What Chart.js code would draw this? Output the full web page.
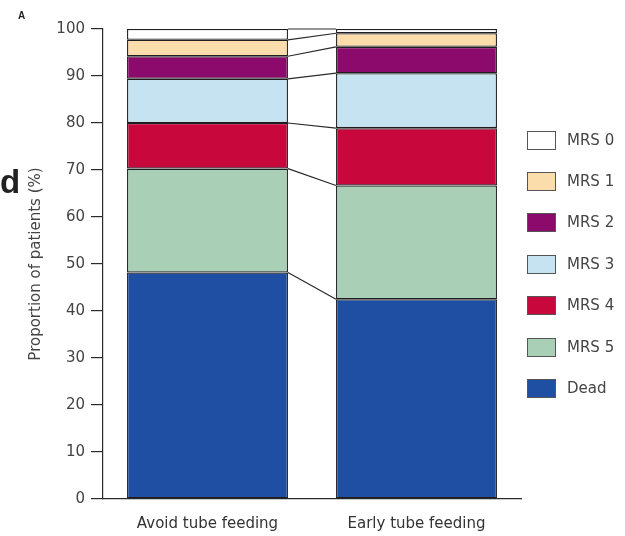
<!DOCTYPE html>
<html>
<head>
<meta charset="utf-8">
<script src="https://cdn.jsdelivr.net/npm/chart.js@4"></script>
<style>
  html, body { margin: 0; padding: 0; background: #ffffff; }
  #wrap { position: relative; width: 625px; height: 536px; }
  #chart { position: absolute; left: 0; top: 0; }
  .panel { position: absolute; font-family: "Liberation Sans", Arial, sans-serif; font-weight: bold; color: #222; }
  #legend { position: absolute; left: 0; top: 0; width: 625px; height: 536px; pointer-events: none; }
  .lg-box { position: absolute; width: 27px; height: 17px; border: 1px solid #555; box-sizing: content-box; }
  .lg-text { position: absolute; font-family: "DejaVu Sans", sans-serif; font-size: 15px; color: #444; line-height: 19px; white-space: nowrap; }
</style>
</head>
<body>
<div id="wrap">
  <canvas id="chart" width="625" height="536"></canvas>
  <div class="panel" style="left:18px; top:10px; font-size:10px;">A</div>
  <div class="panel" style="left:0px; top:165px; font-size:33px; line-height:34px;">d</div>
  <div id="legend"></div>
</div>
<script>
// ---- data ----
const categories = ['Avoid tube feeding', 'Early tube feeding'];
const seriesNames = ['Dead', 'MRS 5', 'MRS 4', 'MRS 3', 'MRS 2', 'MRS 1', 'MRS 0'];
const dead = [48.2, 42.5];
const mrs5 = [22.1, 24.2];
const mrs4 = [9.7, 12.2];
const mrs3 = [9.4, 11.7];
const mrs2 = [4.8, 5.6];
const mrs1 = [3.5, 2.9];
const mrs0 = [2.3, 0.9];
const yTicks = [0, 10, 20, 30, 40, 50, 60, 70, 80, 90, 100];
const yTitle = 'Proportion of patients (%)';

const seriesValues = [dead, mrs5, mrs4, mrs3, mrs2, mrs1, mrs0];
const seriesColors = ['#1f4fa3', '#a9cfb6', '#c8073c', '#c6e3f2', '#8b0a6c', '#fbdcab', '#ffffff'];
const edge = '#1e1e1e';

const datasets = seriesNames.map((name, i) => ({
  label: name,
  data: seriesValues[i],
  backgroundColor: seriesColors[i],
  borderColor: edge,
  borderWidth: 1.3,
  borderSkipped: false,
  barPercentage: 0.770,
  categoryPercentage: 1.0
}));

// connector lines between stacked segment boundaries
const connectors = {
  id: 'connectors',
  afterDatasetsDraw(chart) {
    const ctx = chart.ctx;
    const y = chart.scales.y;
    const n = chart.data.datasets.length;
    const cum = [0, 0];
    ctx.save();
    ctx.strokeStyle = '#2a2a2a';
    ctx.lineWidth = 1.2;
    for (let d = 0; d < n; d++) {
      const meta = chart.getDatasetMeta(d);
      cum[0] += chart.data.datasets[d].data[0];
      cum[1] += chart.data.datasets[d].data[1];
      const b0 = meta.data[0], b1 = meta.data[1];
      const x0 = b0.x + b0.width / 2;
      const x1 = b1.x - b1.width / 2;
      ctx.beginPath();
      ctx.moveTo(x0, y.getPixelForValue(cum[0]));
      ctx.lineTo(x1, y.getPixelForValue(cum[1]));
      ctx.stroke();
    }
    ctx.restore();
  }
};

const chart = new Chart(document.getElementById('chart'), {
  type: 'bar',
  data: { labels: categories, datasets: datasets },
  options: {
    responsive: false,
    animation: false,
    layout: { padding: { left: 0, right: 104, top: 29, bottom: 0 } },
    plugins: { legend: { display: false }, tooltip: { enabled: false } },
    scales: {
      x: {
        stacked: true,
        grid: { display: false, drawTicks: false },
        border: { display: true, color: '#2a2a2a', width: 1.2 },
        ticks: { color: '#333', font: { family: 'DejaVu Sans', size: 15 }, padding: 16 },
        afterFit(scale) { scale.height = 37; }
      },
      y: {
        stacked: true,
        min: 0,
        max: 100,
        afterBuildTicks(scale) { scale.ticks = yTicks.map(v => ({ value: v })); },
        grid: { drawOnChartArea: false, drawTicks: true, tickLength: 12, color: '#2a2a2a', lineWidth: 1.2 },
        border: { display: true, color: '#2a2a2a', width: 1.2 },
        ticks: { color: '#444', font: { family: 'DejaVu Sans', size: 15 }, padding: 6 },
        title: { display: true, text: yTitle, color: '#444', font: { family: 'DejaVu Sans', size: 15 }, padding: { top: 27, bottom: 0 } },
        afterFit(scale) { scale.width = 103; }
      }
    }
  },
  plugins: [connectors]
});

// HTML legend built from the chart's datasets (top: MRS 0 ... bottom: Dead)
(function buildLegend() {
  const host = document.getElementById('legend');
  const items = chart.data.datasets.slice().reverse();
  const left = 527, firstCenter = 140, step = 41.4;
  items.forEach((ds, i) => {
    const cy = firstCenter + i * step;
    const box = document.createElement('div');
    box.className = 'lg-box';
    box.style.left = left + 'px';
    box.style.top = (cy - 9.5) + 'px';
    box.style.background = ds.backgroundColor;
    host.appendChild(box);
    const t = document.createElement('div');
    t.className = 'lg-text';
    t.style.left = (left + 40) + 'px';
    t.style.top = (cy - 9.5) + 'px';
    t.textContent = ds.label;
    host.appendChild(t);
  });
})();
</script>
</body>
</html>
